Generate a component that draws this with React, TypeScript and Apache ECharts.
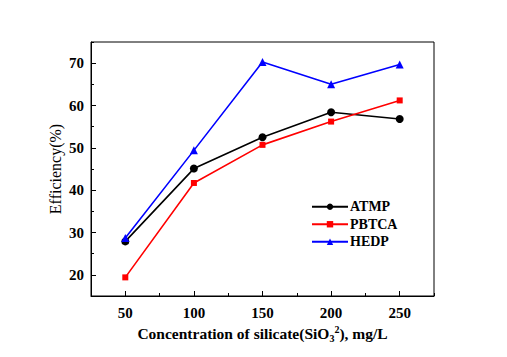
import React, { useEffect, useRef } from "react";
import * as echarts from "echarts";

const concentrations = [50, 100, 150, 200, 250];
const atmp = [27.9, 45.1, 52.5, 58.4, 56.8];
const pbtca = [19.4, 41.7, 50.7, 56.2, 61.2];
const hedp = [28.7, 49.4, 70.3, 65.0, 69.7];
const xTicks = [50, 100, 150, 200, 250];
const yTicks = [20, 30, 40, 50, 60, 70];

const FONT = "'Liberation Serif', 'Times New Roman', serif";

export default function App() {
  const ref = useRef<HTMLDivElement>(null);
  useEffect(() => {
    const chart = echarts.init(ref.current!, null, { renderer: "svg" });
    const mk = (vals: number[]) => concentrations.map((c, i) => [c, vals[i]]);
    const series = [
      { name: "ATMP", color: "#000000", symbol: "circle", size: 8, data: atmp },
      { name: "PBTCA", color: "#ff0000", symbol: "rect", size: 6, data: pbtca },
      { name: "HEDP", color: "#0000ff", symbol: "triangle", size: 8, data: hedp },
    ].map((s) => ({
      name: s.name,
      type: "line",
      xAxisIndex: 0,
      yAxisIndex: 0,
      data: mk(s.data),
      symbol: s.symbol,
      symbolSize: s.size,
      itemStyle: { color: s.color },
      lineStyle: { color: s.color, width: 1.6 },
    }));
    chart.setOption({
      animation: false,
      backgroundColor: "#ffffff",
      textStyle: { fontFamily: FONT },
      grid: {
        left: 91,
        top: 42,
        right: 73,
        bottom: 61,
        show: true,
        borderColor: "#000",
        borderWidth: 1,
        containLabel: false,
      },
      legend: {
        orient: "vertical",
        left: 311,
        top: 199,
        padding: 0,
        itemWidth: 36,
        itemHeight: 8,
        itemGap: 2,
        textStyle: { fontFamily: FONT, fontWeight: "bold", fontSize: 14, color: "#000", padding: [0, 0, 0, -3], lineHeight: 15.5 },
        data: ["ATMP", "PBTCA", "HEDP"],
      },
      xAxis: [
        {
          type: "value",
          min: 25,
          max: 275,
          name: "Concentration of silicate(SiO{sub|3}{sup|2}), mg/L",
          nameLocation: "middle",
          nameGap: 26,
          nameTextStyle: {
            fontFamily: FONT,
            fontWeight: "bold",
            fontSize: 15.5,
            color: "#000",
            rich: {
              sub: { fontSize: 10, fontWeight: "bold", fontFamily: FONT, padding: [10, 0, 0, 0] },
              sup: { fontSize: 10, fontWeight: "bold", fontFamily: FONT, padding: [0, 0, 8, 0] },
            },
          },
          axisLine: { show: true, lineStyle: { color: "#000", width: 1 } },
          axisTick: { inside: true, length: 5, customValues: xTicks, lineStyle: { color: "#000" } },
          axisLabel: {
            customValues: xTicks,
            fontFamily: FONT,
            fontWeight: "bold",
            fontSize: 15,
            color: "#000",
            margin: 9,
          },
          splitLine: { show: false },
        },
        {
          type: "value",
          position: "bottom",
          min: 25,
          max: 275,
          interval: 25,
          axisLine: { show: false },
          axisTick: { inside: true, length: 3, lineStyle: { color: "#000" } },
          axisLabel: { show: false },
          splitLine: { show: false },
        },
      ],
      yAxis: [
        {
          type: "value",
          min: 15,
          max: 75,
          name: "Efficiency(%)",
          nameLocation: "middle",
          nameGap: 28,
          nameMoveOverlap: false,
          nameTextStyle: { fontFamily: FONT, fontSize: 16, color: "#000" },
          axisLine: { show: true, lineStyle: { color: "#000", width: 1 } },
          axisTick: { inside: true, length: 5, customValues: yTicks, lineStyle: { color: "#000" } },
          axisLabel: {
            customValues: yTicks,
            fontFamily: FONT,
            fontWeight: "bold",
            fontSize: 15,
            color: "#000",
            margin: 7,
          },
          splitLine: { show: false },
        },
        {
          type: "value",
          position: "left",
          min: 15,
          max: 75,
          interval: 5,
          axisLine: { show: false },
          axisTick: { inside: true, length: 3, lineStyle: { color: "#000" } },
          axisLabel: { show: false },
          splitLine: { show: false },
        },
      ],
      series,
    });
    return () => chart.dispose();
  }, []);
  return (
    <div
      ref={ref}
      style={{ position: "fixed", left: 0, top: 0, width: 507, height: 357, background: "#fff" }}
    />
  );
}
